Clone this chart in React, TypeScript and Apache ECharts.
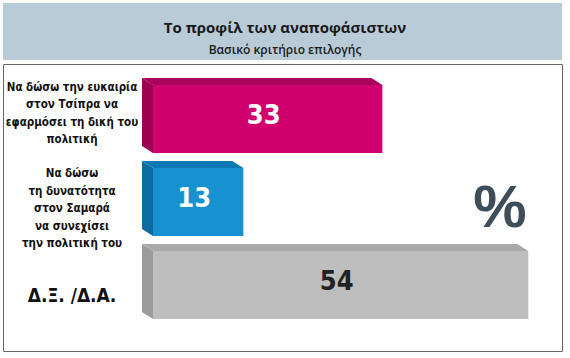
import React, { useEffect, useRef } from "react";
import * as echarts from "echarts";

const titleText = "Το προφίλ των αναποφάσιστων";
const subtitleText = "Βασικό κριτήριο επιλογής";
const categories = [
  "Να δώσω την ευκαιρία\nστον Τσίπρα να\nεφαρμόσει τη δική του\nπολιτική",
  "Να δώσω\nτη δυνατότητα\nστον Σαμαρά\nνα συνεχίσει\nτην πολιτική του",
  "Δ.Ξ. /Δ.Α.",
];
const values = [33, 13, 54];
const unitText = "%";

const frontColors = ["#d1006f", "#1891d1", "#bebebe"];
const sideColors = ["#9c0052", "#0d6aa3", "#9c9c9c"];
const topColors = ["#a9005b", "#0e78b6", "#a9a9a9"];
const valueColors = ["#ffffff", "#ffffff", "#222222"];

const NARROW = '"Liberation Sans Narrow", "DejaVu Sans Condensed", "Roboto", sans-serif';

export default function App() {
  const ref = useRef<HTMLDivElement>(null);
  useEffect(() => {
    if (!ref.current) return;
    const chart = echarts.init(ref.current, undefined, { renderer: "svg" });
    const dx = 11;
    const dy = 7;
    const labelStyle = { fontFamily: NARROW, fontWeight: "bold", fontSize: 11.5, color: "#111", lineHeight: 17.5 };
    chart.setOption({
      animation: false,
      backgroundColor: "#ffffff",
      title: [
        {
          text: titleText,
          left: "center",
          top: 14,
          textStyle: { fontFamily: '"Open Sans", sans-serif', fontWeight: "bold", fontSize: 15, color: "#1a1a1a" },
        },
        {
          text: subtitleText,
          left: "center",
          top: 38,
          textStyle: { fontFamily: '"Open Sans", sans-serif', fontWeight: 600, fontSize: 12, color: "#1a1a1a" },
        },
      ],
      graphic: [
        {
          type: "rect",
          z: 0,
          shape: { x: 3, y: 3, width: 559, height: 57 },
          style: { fill: "#b9cbd7" },
        },
        {
          type: "rect",
          z: 0,
          shape: { x: 3.5, y: 64.5, width: 559, height: 287 },
          style: { fill: "#ffffff", stroke: "#666666", lineWidth: 1 },
        },
        {
          type: "text",
          z: 5,
          x: 500,
          y: 206,
          style: {
            text: unitText,
            fontFamily: '"Liberation Sans", sans-serif',
            fontWeight: "bold",
            fontSize: 60,
            fill: "#3d4e59",
            align: "center",
            verticalAlign: "middle",
          },
        },
      ],
      grid: { left: 153, top: 77.5, width: 420, height: 249, containLabel: false },
      xAxis: { type: "value", min: 0, max: 60, show: false },
      yAxis: {
        type: "category",
        data: categories,
        inverse: true,
        axisLine: { show: false },
        axisTick: { show: false },
        splitLine: { show: false },
        axisLabel: {
          interval: 0,
          hideOverlap: false,
          align: "center",
          margin: 81,
          ...labelStyle,
          formatter: (value: string, index: number) => {
            const lines = value.split("\n").map((l) => `{n|${l}}`);
            if (index === 2) return `{big|${value}}`;
            if (index === 0) return [...lines, "{sp| }"].join("\n");
            return ["{sp| }", ...lines].join("\n");
          },
          rich: {
            n: { ...labelStyle },
            sp: { ...labelStyle, fontSize: 6, lineHeight: 12 },
            big: { fontFamily: NARROW, fontWeight: "bold", fontSize: 19, color: "#111", padding: [20, 0, 0, 0] },
          },
        },
      },
      series: [
        {
          type: "custom",
          coordinateSystem: "cartesian2d",
          encode: { x: 0, y: 1 },
          data: values.map((v, i) => [v, i]),
          renderItem: (params: any, api: any) => {
            const v = api.value(0);
            const idx = api.value(1);
            const p0 = api.coord([0, idx]);
            const p1 = api.coord([v, idx]);
            const band = api.size([0, 1])[1];
            const h = band * 0.82;
            const x0 = p0[0];
            const x1 = p1[0];
            const yTop = p0[1] - h / 2;
            const yBot = yTop + h;
            const i = params.dataIndex;
            return {
              type: "group",
              children: [
                {
                  type: "polygon",
                  shape: { points: [[x0, yTop], [x0 - dx, yTop - dy], [x0 - dx, yBot - dy], [x0, yBot]] },
                  style: { fill: sideColors[i] },
                },
                {
                  type: "polygon",
                  shape: { points: [[x0 - dx, yTop - dy], [x1 - dx, yTop - dy], [x1, yTop], [x0, yTop]] },
                  style: { fill: topColors[i] },
                },
                {
                  type: "rect",
                  shape: { x: x0, y: yTop, width: x1 - x0, height: h },
                  style: { fill: frontColors[i] },
                },
                {
                  type: "text",
                  x: (x0 + x1) / 2 - 4,
                  y: yTop + h / 2 - 5,
                  style: {
                    text: String(v),
                    fontFamily: NARROW,
                    fontWeight: "bold",
                    fontSize: 27,
                    fill: valueColors[i],
                    align: "center",
                    verticalAlign: "middle",
                  },
                },
              ],
            };
          },
        },
      ],
    });
    return () => chart.dispose();
  }, []);
  return (
    <div
      ref={ref}
      style={{ position: "fixed", left: 0, top: 0, width: 570, height: 358, background: "#fff" }}
    />
  );
}
